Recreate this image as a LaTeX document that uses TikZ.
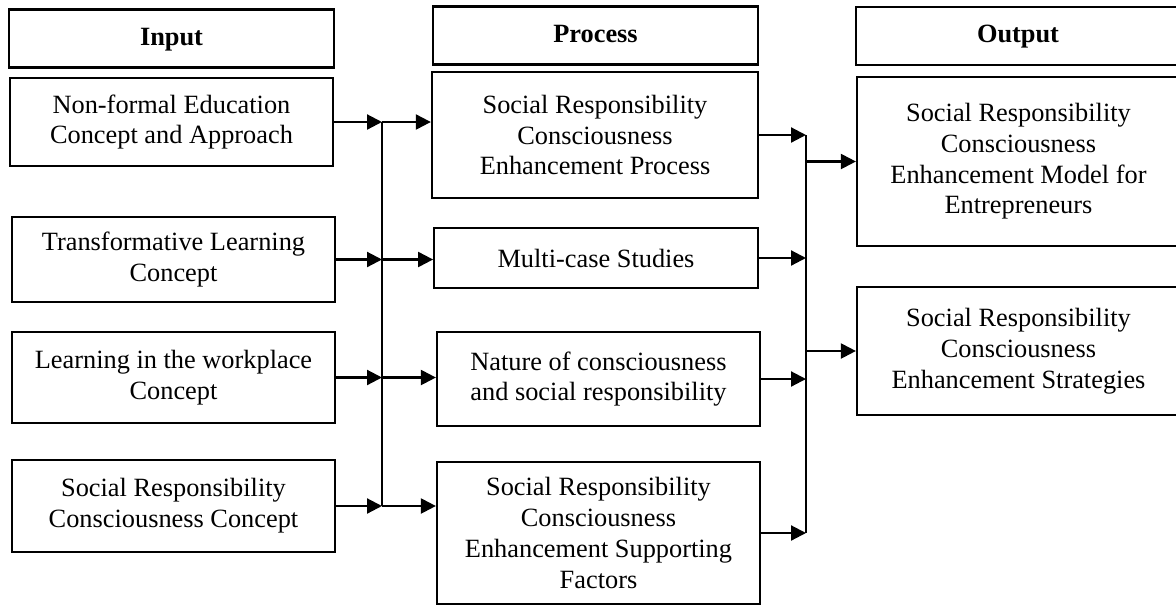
\documentclass[tikz,border=0pt]{standalone}
\usepackage{fontspec}
\setmainfont{Liberation Serif}
\usetikzlibrary{positioning,arrows.meta}

\begin{document}
\begin{tikzpicture}[ x = 0.016cm, y = -0.016cm, > = {Triangle[length = 2.4mm, width = 2.4mm]}, line width = 1pt,
head/.style={ rectangle, draw, minimum width = 5.2cm, minimum height = 0.93cm, text height = 8.5pt, text depth = 2.5pt, font = \fontsize{12}{14}\selectfont\bfseries },
box/.style={ rectangle, draw, minimum width = 5.17cm, align = center, inner sep = 0pt, font = \fontsize{12}{14}\selectfont }
]
\useasboundingbox (0,0) rectangle (1176,608);
%column headers
\node (hin) at (171.5,38.5) [head] {Input};
\node (hpro) at (595.5,35.5) [head] {Process};
\node (hout) at (1018,36) [head, minimum width = 5.18cm] {Output};

%input column
\node (in1) at (171.5,122) [box, minimum height = 1.41cm] {Non-formal Education\\Concept and Approach};
\node (in2) at (173.5,259.5) [box, minimum height = 1.36cm] {Transformative Learning\\Concept};
\node (in3) at (173.5,377.5) [box, minimum height = 1.46cm] {Learning in the workplace\\Concept};
\node (in4) at (173.5,506) [box, minimum height = 1.47cm] {Social Responsibility\\Consciousness Concept};

%process column
\node (pro1) at (595,135) [box, minimum width = 5.22cm, minimum height = 2.02cm] {Social Responsibility\\Consciousness\\Enhancement Process};
\node (pro2) at (596,258) [box, minimum width = 5.18cm, minimum height = 0.96cm] {Multi-case Studies};
\node (pro3) at (598.5,379) [box, minimum height = 1.5cm] {Nature of consciousness\\and social responsibility};
\node (pro4) at (598.5,533) [box, minimum height = 2.27cm] {Social Responsibility\\Consciousness\\Enhancement Supporting\\Factors};

%output column
\node (out1) at (1018.5,161.5) [box, minimum height = 2.7cm] {Social Responsibility\\Consciousness\\Enhancement Model for\\Entrepreneurs};
\node (out2) at (1018.5,351) [box, minimum height = 2.05cm] {Social Responsibility\\Consciousness\\Enhancement Strategies};

%the two collecting lines
\coordinate (busin) at (382,0);
\coordinate (busout) at (806,0);

\draw [->] (in1.east) -- (in1.east -| busin);
\draw [->] (in2.east) -- (in2.east -| busin);
\draw [->] (in3.east) -- (in3.east -| busin);
\draw [->] (in4.east) -- (in4.east -| busin);
\draw (in1.east -| busin) -- (in4.east -| busin);
\draw [->] (in1.east -| busin) -- (in1.east -| pro1.west);
\draw [->] (in2.east -| busin) -- (in2.east -| pro2.west);
\draw [->] (in3.east -| busin) -- (in3.east -| pro3.west);
\draw [->] (in4.east -| busin) -- (in4.east -| pro4.west);

\draw [->] (pro1.east) -- (pro1.east -| busout);
\draw [->] (pro2.east) -- (pro2.east -| busout);
\draw [->] (pro3.east) -- (pro3.east -| busout);
\draw [->] (pro4.east) -- (pro4.east -| busout);
\draw (pro1.east -| busout) -- (pro4.east -| busout);
\draw [->] (out1.west -| busout) -- (out1.west);
\draw [->] (out2.west -| busout) -- (out2.west);
\end{tikzpicture}
\end{document}
